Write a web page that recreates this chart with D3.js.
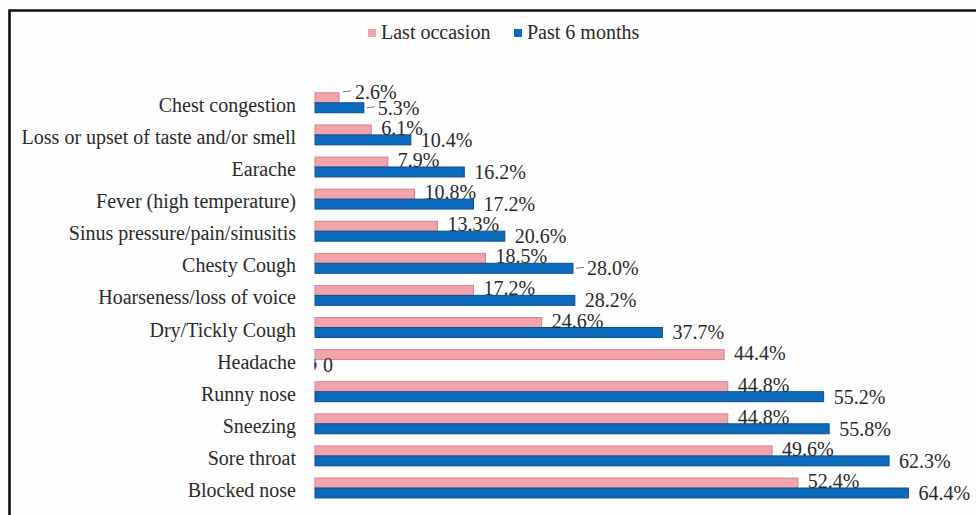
<!DOCTYPE html>
<html>
<head>
<meta charset="utf-8">
<script src="https://cdn.jsdelivr.net/npm/d3@7"></script>
<style>
  html, body { margin: 0; padding: 0; background: #fdfdfd; }
  svg { display: block; }
  text { font-family: "Liberation Serif", "Times New Roman", serif; fill: #2a2a2a; }
</style>
</head>
<body>
<svg id="chart" width="976" height="515"></svg>
<script>
const categories = [
  "Chest congestion",
  "Loss or upset of taste and/or smell",
  "Earache",
  "Fever (high temperature)",
  "Sinus pressure/pain/sinusitis",
  "Chesty Cough",
  "Hoarseness/loss of voice",
  "Dry/Tickly Cough",
  "Headache",
  "Runny nose",
  "Sneezing",
  "Sore throat",
  "Blocked nose"
];
const lastOccasion = [2.6, 6.1, 7.9, 10.8, 13.3, 18.5, 17.2, 24.6, 44.4, 44.8, 44.8, 49.6, 52.4];
const past6Months  = [5.3, 10.4, 16.2, 17.2, 20.6, 28.0, 28.2, 37.7, 0, 55.2, 55.8, 62.3, 64.4];
const seriesNames = ["Last occasion", "Past 6 months"];
// labels that Excel drew with a leader line
const leaderLast = ["Chest congestion"];
const leaderPast = ["Chest congestion", "Chesty Cough"];

const colors = { last: "#f2a3ab", lastStroke: "#d0848c", past: "#0d6bbd", pastStroke: "#0a4f90" };
const FS = 20;

const svg = d3.select("#chart");

// frame (left + top edges visible)
svg.append("path")
  .attr("d", "M9.5,515 L9.5,10.5 L976,10.5")
  .attr("fill", "none").attr("stroke", "#111").attr("stroke-width", 2.6);

const x = d3.scaleLinear().domain([0, 70]).range([315, 960]);
const y = d3.scaleBand().domain(categories).range([86.75, 86.75 + 13 * 32.1]).paddingInner(0.38).paddingOuter(0.19);

const data = categories.map((c, i) => ({ cat: c, last: lastOccasion[i], past: past6Months[i] }));
const bh = y.bandwidth() / 2;

const g = svg.append("g");

// category labels
g.selectAll("text.cat").data(data).join("text")
  .attr("class", "cat")
  .attr("x", 296)
  .attr("y", d => y(d.cat) + bh + 9)
  .attr("text-anchor", "end")
  .attr("font-size", FS)
  .text(d => d.cat);

// bars
g.selectAll("rect.last").data(data).join("rect")
  .attr("class", "last")
  .attr("x", x(0)).attr("y", d => y(d.cat))
  .attr("width", d => x(d.last) - x(0)).attr("height", bh)
  .attr("fill", colors.last).attr("stroke", colors.lastStroke).attr("stroke-width", 1);

g.selectAll("rect.past").data(data).join("rect")
  .attr("class", "past")
  .attr("x", x(0)).attr("y", d => y(d.cat) + bh)
  .attr("width", d => Math.max(0.01, x(d.past) - x(0))).attr("height", bh)
  .attr("fill", colors.past).attr("stroke", colors.pastStroke).attr("stroke-width", 1);

// zero-length bars show as a thin tick
g.selectAll("line.zero").data(data.filter(d => d.past === 0)).join("line")
  .attr("x1", x(0) + 0.5).attr("x2", x(0) + 0.5)
  .attr("y1", d => y(d.cat) + bh + 3).attr("y2", d => y(d.cat) + 2 * bh - 2)
  .attr("stroke", "#333").attr("stroke-width", 2);

const fmt = v => v === 0 ? "0" : v.toFixed(1) + "%";

// value labels
g.selectAll("text.vlast").data(data).join("text")
  .attr("class", "vlast")
  .attr("x", d => x(d.last) + (leaderLast.includes(d.cat) ? 16 : 10))
  .attr("y", d => y(d.cat) + bh + (leaderLast.includes(d.cat) ? -4 : 0))
  .attr("font-size", FS)
  .text(d => fmt(d.last));

g.selectAll("text.vpast").data(data).join("text")
  .attr("class", "vpast")
  .attr("x", d => x(d.past) + (leaderPast.includes(d.cat) ? 14 : (d.past === 0 ? 8 : 10)))
  .attr("y", d => y(d.cat) + 2 * bh + 2)
  .attr("font-size", FS)
  .text(d => fmt(d.past));

// leader lines
g.selectAll("line.llast").data(data.filter(d => leaderLast.includes(d.cat))).join("line")
  .attr("x1", d => x(d.last) + 4).attr("x2", d => x(d.last) + 12)
  .attr("y1", d => y(d.cat) - 1).attr("y2", d => y(d.cat) - 2)
  .attr("stroke", "#777").attr("stroke-width", 1);
g.selectAll("line.lpast").data(data.filter(d => leaderPast.includes(d.cat))).join("line")
  .attr("x1", d => x(d.past) + 3).attr("x2", d => x(d.past) + 11)
  .attr("y1", d => y(d.cat) + 2 * bh - 5).attr("y2", d => y(d.cat) + 2 * bh - 6)
  .attr("stroke", "#777").attr("stroke-width", 1);

// legend
const legend = svg.append("g");
const legItems = [
  { name: seriesNames[0], color: colors.last, sx: 368 },
  { name: seriesNames[1], color: colors.past, sx: 514 }
];
legItems.forEach(it => {
  legend.append("rect").attr("x", it.sx).attr("y", 29).attr("width", 8).attr("height", 8).attr("fill", it.color);
  legend.append("text").attr("x", it.sx + 13).attr("y", 39).attr("font-size", FS).text(it.name);
});
</script>
</body>
</html>
